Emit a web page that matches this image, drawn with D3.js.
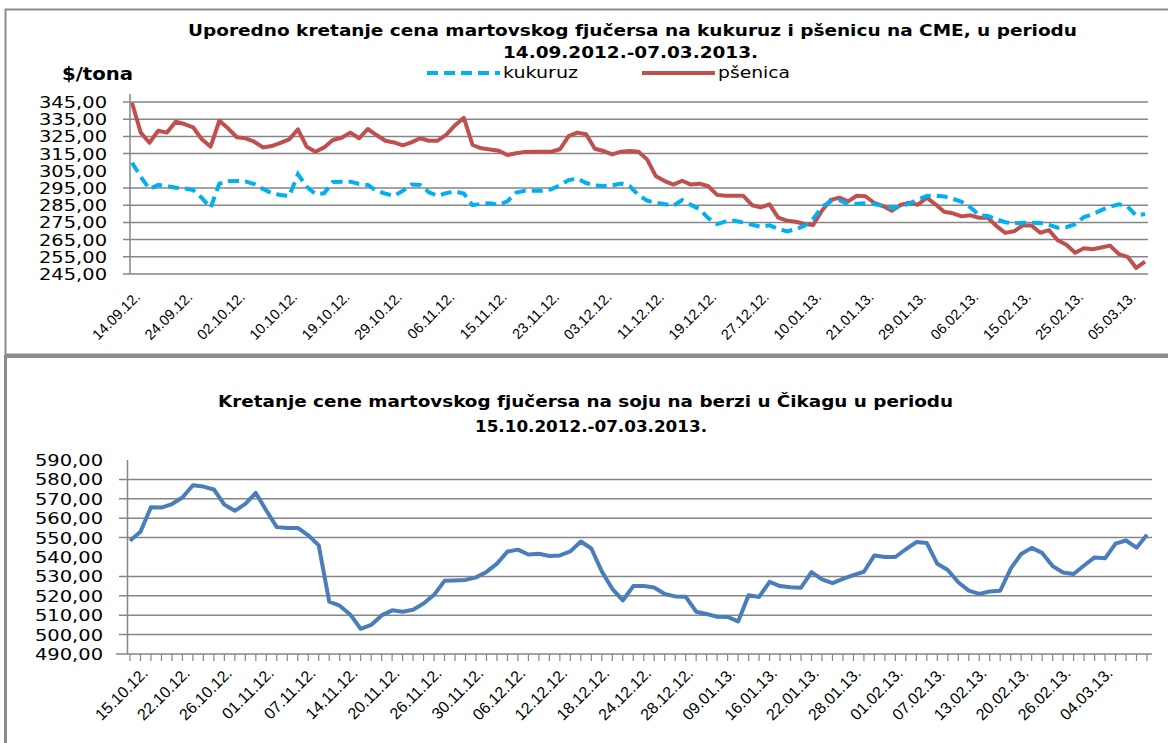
<!DOCTYPE html>
<html>
<head>
<meta charset="utf-8">
<script src="https://cdn.jsdelivr.net/npm/d3@7"></script>
<style>
  body { margin: 0; background: #fff; }
  svg { display: block; }
</style>
</head>
<body>
<div id="container"></div>
<script>
/* DATA */
// top chart: march futures on CME, one value per trading day
const topLabels = ["14.09.12.", "24.09.12.", "02.10.12.", "10.10.12.", "19.10.12.", "29.10.12.",
  "06.11.12.", "15.11.12.", "23.11.12.", "03.12.12.", "11.12.12.", "19.12.12.", "27.12.12.",
  "10.01.13.", "21.01.13.", "29.01.13.", "06.02.13.", "15.02.13.", "25.02.13.", "05.03.13."];

const kukuruz = [309.7, 301.5, 294.5, 296.8, 296.1, 295.1, 294.8, 293.8, 289.2, 283.5,
  297.5, 299, 299.1, 298.8, 297.2, 294.5, 292, 290.9, 290.3, 303,
  295.8, 291.5, 291.9, 298.5, 298.7, 298.7, 297.3, 296.8, 293.4, 291.7,
  290.5, 293.3, 297, 296.8, 292.5, 290.5, 292, 293, 291.8, 285,
  285.8, 286.1, 285.2, 287.3, 292.3, 293.4, 293.4, 293.4, 294.3, 296.6,
  299.6, 300.5, 297.9, 296.5, 296.2, 296.5, 297.6, 296, 290.8, 287.6,
  286.5, 285.6, 284.7, 288, 285.2, 282.7, 277.4, 274, 275.6, 276,
  275, 273.6, 272.5, 273.3, 271.3, 269.8, 271.1, 273, 277, 284,
  287.2, 287.9, 285.5, 285.8, 286.1, 285.6, 284.5, 283.4, 284.2, 285.9,
  288.4, 290.3, 290.6, 290.1, 288.7, 287, 283.8, 279.2, 278.7, 276.8,
  275.1, 274.4, 274.8, 274.8, 274.7, 273.6, 271.9, 272.2, 274, 278.1,
  279.8, 282.1, 284.1, 285.5, 284.3, 279, 279.9];

const psenica = [344.6, 327.2, 321.3, 328.3, 327.2, 333.5, 332.2, 330.3, 323.3, 319,
  334.1, 329.7, 324.5, 323.9, 321.9, 318.6, 319.4, 321.3, 323.3, 329.1,
  319, 316.1, 318.6, 322.9, 324.2, 327.2, 323.9, 329.3, 325.8, 322.5,
  321.5, 319.8, 321.5, 323.9, 322.5, 322.5, 326, 331.5, 335.8, 320,
  318.1, 317.4, 316.6, 314.2, 315.2, 316, 316.1, 316.1, 316.1, 317.5,
  325.2, 327.2, 326.3, 317.8, 316.5, 314.5, 316.1, 316.5, 316.1, 311.5,
  301.8, 299, 297, 299.2, 297, 297.5, 296, 291, 290.5, 290.5,
  290.5, 285, 283.8, 285.5, 277.8, 276, 275.4, 274.1, 273.5, 281.8,
  288, 289.4, 287.2, 290.5, 290.2, 286.3, 284.5, 281.8, 285.1, 286.4,
  285.3, 289.4, 285.5, 281.2, 280.3, 278.5, 279.1, 277.7, 277.7, 272.8,
  268.9, 269.8, 273.3, 273.2, 269, 270.5, 264.6, 262, 257.4, 260,
  259.4, 260.4, 261.5, 256.6, 255, 248.5, 252.2];

const topTicks = [345, 335, 325, 315, 305, 295, 285, 275, 265, 255, 245];

// bottom chart: soybeans in Chicago
const sojaLabels = ["15.10.12.", "22.10.12.", "26.10.12.", "01.11.12.", "07.11.12.", "14.11.12.",
  "20.11.12.", "26.11.12.", "30.11.12.", "06.12.12.", "12.12.12.", "18.12.12.", "24.12.12.",
  "28.12.12.", "09.01.13.", "16.01.13.", "22.01.13.", "28.01.13.", "01.02.13.", "07.02.13.",
  "13.02.13.", "20.02.13.", "26.02.13.", "04.03.13."];

const soja = [548.4, 553, 565.7, 565.5, 567.3, 570.7, 577, 576.3, 574.8, 567,
  563.8, 567.4, 573, 564, 555.4, 555, 555, 551.2, 546, 517,
  514.9, 510.4, 503, 505, 509.9, 512.5, 511.8, 512.8, 516, 520.5,
  527.7, 527.9, 528.2, 529.5, 532.3, 536.6, 542.8, 543.8, 541.3, 541.7,
  540.5, 540.8, 542.9, 548, 544.4, 532.6, 523.6, 517.6, 525, 525,
  524.3, 520.9, 519.7, 519.5, 511.8, 510.6, 509.2, 509.1, 506.8, 520.3,
  519.4, 527.2, 525, 524.4, 524.2, 532.2, 528.5, 526.5, 528.7, 530.7,
  532.4, 540.8, 540, 540, 544, 547.7, 547.2, 536.5, 533.3, 527,
  522.7, 521, 522.2, 522.6, 534, 541.6, 544.7, 542.1, 535.3, 532,
  531.2, 535.6, 539.8, 539.3, 546.9, 548.5, 544.8, 551.5];

const sojaTicks = [590, 580, 570, 560, 550, 540, 530, 520, 510, 500, 490];

/* CONSTANTS */
const width = 1168, height = 743;
const gridColor = "#868686";
const fmt = v => d3.format(".2f")(v).replace(".", ",");

const svg = d3.select("#container")
  .append("svg")
  .attr("width", width)
  .attr("height", height);

svg.append("rect").attr("width", width).attr("height", height).attr("fill", "#fff");

// frames
svg.append("rect")
  .attr("x", 5.5).attr("y", 9.5).attr("width", 1180).attr("height", 345)
  .attr("fill", "none").attr("stroke", "#8c8c8c").attr("stroke-width", 2);
svg.append("rect")
  .attr("x", 5.5).attr("y", 356.5).attr("width", 1180).attr("height", 400)
  .attr("fill", "none").attr("stroke", "#8c8c8c").attr("stroke-width", 3);

function addText(txt, x, y, opts) {
  const t = svg.append("text")
    .attr("x", x).attr("y", y)
    .attr("font-family", opts.family || "DejaVu Sans")
    .attr("font-size", opts.size)
    .attr("font-weight", opts.bold ? "bold" : "normal")
    .attr("fill", "#000")
    .attr("text-anchor", opts.anchor || "start")
    .text(txt);
  if (opts.len) t.attr("textLength", opts.len).attr("lengthAdjust", "spacingAndGlyphs");
  return t;
}

/* TOP CHART */
const xTop = d3.scaleLinear().domain([0, kukuruz.length - 1]).range([132, 1145]);
const yTop = d3.scaleLinear().domain([245, 345]).range([274, 102]);

addText("Uporedno kretanje cena martovskog fjučersa na kukuruz i pšenicu na CME, u periodu", 188, 36, { size: 16, bold: true, len: 889 });
addText("14.09.2012.-07.03.2013.", 503, 58, { size: 16, bold: true, len: 255 });
addText("$/tona", 62, 80, { size: 17, bold: true, len: 71 });

// gridlines (the 305 line is not drawn in the original)
svg.append("g")
  .selectAll("line")
  .data(topTicks.filter(d => d !== 305))
  .join("line")
  .attr("x1", 123).attr("x2", 1148)
  .attr("y1", d => yTop(d)).attr("y2", d => yTop(d))
  .attr("stroke", gridColor).attr("stroke-width", 1.5);

svg.append("line")
  .attr("x1", 130).attr("x2", 130).attr("y1", 94).attr("y2", yTop(245))
  .attr("stroke", gridColor).attr("stroke-width", 1.5);

svg.append("g")
  .selectAll("text")
  .data(topTicks)
  .join("text")
  .attr("x", 107).attr("y", d => yTop(d) + 6)
  .attr("text-anchor", "end")
  .attr("font-family", "DejaVu Sans").attr("font-size", 16)
  .attr("textLength", 68).attr("lengthAdjust", "spacingAndGlyphs")
  .text(d => fmt(d));

svg.append("g")
  .selectAll("text")
  .data(topLabels)
  .join("text")
  .attr("transform", (d, i) => `translate(${xTop(i * 6) + 9}, 298) rotate(-45)`)
  .attr("text-anchor", "end")
  .attr("font-family", "Liberation Sans").attr("font-size", 14.5)
  .text(d => d);

const lineTop = d3.line()
  .x((d, i) => xTop(i))
  .y(d => yTop(d));

svg.append("path")
  .datum(psenica)
  .attr("fill", "none").attr("stroke", "#c0504d").attr("stroke-width", 4)
  .attr("stroke-linejoin", "round")
  .attr("d", lineTop);

svg.append("path")
  .datum(kukuruz)
  .attr("fill", "none").attr("stroke", "#00b0f0").attr("stroke-width", 4)
  .attr("stroke-dasharray", "11,6")
  .attr("d", lineTop);

// legend
svg.append("line")
  .attr("x1", 427).attr("x2", 500).attr("y1", 73).attr("y2", 73)
  .attr("stroke", "#00b0f0").attr("stroke-width", 4).attr("stroke-dasharray", "11,6");
addText("kukuruz", 503, 78, { size: 15, len: 75 });
svg.append("line")
  .attr("x1", 642).attr("x2", 715).attr("y1", 73).attr("y2", 73)
  .attr("stroke", "#c0504d").attr("stroke-width", 4);
addText("pšenica", 718, 78, { size: 15, len: 72 });

/* BOTTOM CHART */
const xBot = d3.scaleLinear().domain([0, soja.length - 1]).range([130, 1147]);
const yBot = d3.scaleLinear().domain([490, 590]).range([654, 460]);

addText("Kretanje cene martovskog fjučersa na soju na berzi u Čikagu u periodu", 218, 407, { size: 16, bold: true, len: 735 });
addText("15.10.2012.-07.03.2013.", 475, 432, { size: 16, bold: true, len: 232 });

// gridlines (no line at 590 and none at 540 in the original)
svg.append("g")
  .selectAll("line")
  .data(sojaTicks.filter(d => d !== 540 && d !== 590))
  .join("line")
  .attr("x1", d => d === 490 ? 116 : 119).attr("x2", 1152)
  .attr("y1", d => yBot(d)).attr("y2", d => yBot(d))
  .attr("stroke", gridColor).attr("stroke-width", 1.5);

svg.append("line")
  .attr("x1", 127.5).attr("x2", 127.5).attr("y1", 460).attr("y2", yBot(490))
  .attr("stroke", gridColor).attr("stroke-width", 1.5);

// category ticks under the x axis
svg.append("g")
  .selectAll("line")
  .data(d3.range(soja.length))
  .join("line")
  .attr("x1", d => xBot(d)).attr("x2", d => xBot(d))
  .attr("y1", yBot(490)).attr("y2", yBot(490) + 7)
  .attr("stroke", gridColor).attr("stroke-width", 1.2);

svg.append("g")
  .selectAll("text")
  .data(sojaTicks)
  .join("text")
  .attr("x", 103).attr("y", d => yBot(d) + 6)
  .attr("text-anchor", "end")
  .attr("font-family", "DejaVu Sans").attr("font-size", 16)
  .attr("textLength", 68).attr("lengthAdjust", "spacingAndGlyphs")
  .text(d => fmt(d));

svg.append("g")
  .selectAll("text")
  .data(sojaLabels)
  .join("text")
  .attr("transform", (d, i) => `translate(${xBot(i * 4) + 19}, 674) rotate(-45)`)
  .attr("text-anchor", "end")
  .attr("font-family", "Liberation Sans").attr("font-size", 16)
  .text(d => d);

const lineBot = d3.line()
  .x((d, i) => xBot(i))
  .y(d => yBot(d));

svg.append("path")
  .datum(soja)
  .attr("fill", "none").attr("stroke", "#4a7ebb").attr("stroke-width", 4)
  .attr("stroke-linejoin", "round")
  .attr("d", lineBot);
</script>
</body>
</html>
